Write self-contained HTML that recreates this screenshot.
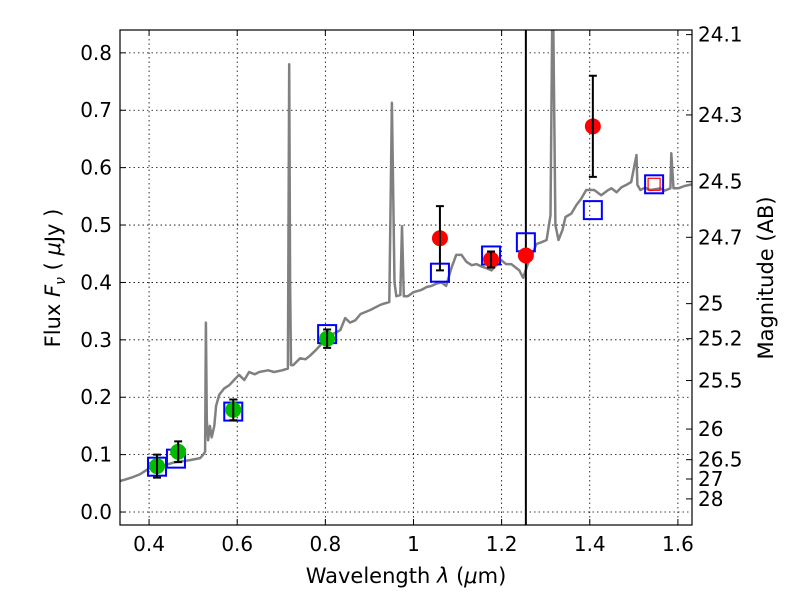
<!DOCTYPE html>
<html><head><meta charset="utf-8"><style>
body{margin:0;background:#fff}
svg{display:block;font-family:"DejaVu Sans","Liberation Sans",sans-serif}
</style></head><body>
<svg id="chart" width="800" height="600"></svg>
<script>
const specWave=[0.334,0.360,0.380,0.402,0.430,0.459,0.490,0.516,0.522,0.527,0.529,0.531,0.534,0.538,0.542,0.548,0.552,0.559,0.570,0.582,0.593,0.604,0.616,0.627,0.640,0.650,0.670,0.684,0.702,0.715,0.718,0.720,0.722,0.727,0.735,0.743,0.755,0.766,0.778,0.789,0.800,0.811,0.822,0.834,0.845,0.856,0.868,0.880,0.902,0.925,0.945,0.951,0.957,0.961,0.970,0.974,0.978,0.987,1.000,1.018,1.030,1.041,1.052,1.063,1.074,1.086,1.097,1.109,1.120,1.132,1.143,1.154,1.165,1.177,1.188,1.199,1.210,1.222,1.240,1.249,1.261,1.270,1.279,1.290,1.302,1.311,1.316,1.322,1.329,1.338,1.345,1.358,1.370,1.380,1.392,1.410,1.426,1.440,1.449,1.461,1.472,1.483,1.494,1.506,1.508,1.515,1.525,1.538,1.560,1.570,1.583,1.585,1.590,1.601,1.615,1.632];
const specFlux=[0.054,0.060,0.066,0.077,0.080,0.087,0.090,0.094,0.099,0.105,0.33,0.16,0.125,0.15,0.13,0.15,0.185,0.204,0.215,0.221,0.230,0.239,0.230,0.244,0.240,0.244,0.247,0.244,0.247,0.25,0.78,0.40,0.256,0.256,0.262,0.268,0.266,0.273,0.282,0.291,0.300,0.308,0.312,0.317,0.338,0.330,0.334,0.345,0.352,0.361,0.366,0.713,0.40,0.376,0.378,0.498,0.376,0.376,0.383,0.387,0.392,0.394,0.398,0.40,0.394,0.425,0.448,0.448,0.436,0.430,0.432,0.428,0.425,0.421,0.430,0.439,0.432,0.432,0.421,0.408,0.436,0.450,0.467,0.470,0.474,0.517,0.95,0.50,0.474,0.491,0.514,0.520,0.535,0.545,0.561,0.561,0.552,0.560,0.564,0.557,0.566,0.570,0.575,0.622,0.570,0.561,0.565,0.561,0.564,0.560,0.564,0.625,0.564,0.564,0.568,0.571];
const greenWave=[0.418,0.466,0.591,0.804];
const greenFlux=[0.080,0.105,0.178,0.302];
const greenErr=[0.020,0.018,0.018,0.016];
const redWave=[1.060,1.176,1.255,1.407];
const redFlux=[0.477,0.440,0.447,0.672];
const redErr=[0.056,0.014,0,0.088];
const modelWave=[0.418,0.461,0.591,0.804,1.060,1.176,1.255,1.407,1.546];
const modelFlux=[0.079,0.093,0.175,0.310,0.417,0.447,0.470,0.526,0.571];
const xTicks=[0.4,0.6,0.8,1,1.2,1.4,1.6];
const xTickLabels=["0.4","0.6","0.8","1","1.2","1.4","1.6"];
const yTicks=[0,0.1,0.2,0.3,0.4,0.5,0.6,0.7,0.8];
const yTickLabels=["0.0","0.1","0.2","0.3","0.4","0.5","0.6","0.7","0.8"];
const magTicks=[24.1,24.3,24.5,24.7,25,25.2,25.5,26,26.5,27,28];
const magLabels=["24.1","24.3","24.5","24.7","25","25.2","25.5","26","26.5","27","28"];
const vLine=1.255;

const L=120,R=692,T=30,B=525;
const xmin=0.334,xmax=1.632,ymin=-0.0226,ymax=0.8398;
const X=v=>L+(v-xmin)/(xmax-xmin)*(R-L);
const Y=v=>B-(v-ymin)/(ymax-ymin)*(B-T);
const svg=document.getElementById('chart');
const NS='http://www.w3.org/2000/svg';
function mk(tag,attrs,txt){const e=document.createElementNS(NS,tag);for(const k in attrs)e.setAttribute(k,attrs[k]);if(txt!==undefined)e.textContent=txt;svg.appendChild(e);return e;}
const defs=document.createElementNS(NS,'defs');defs.innerHTML='<clipPath id="cp"><rect x="120" y="30" width="572" height="495"/></clipPath>';svg.appendChild(defs);
xTicks.forEach((t,i)=>{const x=X(t);
 let g=mk('line',{x1:x,x2:x,y1:T,y2:B,stroke:'#000','stroke-width':0.8,'stroke-dasharray':'1.5,3'});
 
 mk('line',{x1:x,x2:x,y1:B,y2:B-6,stroke:'#000'});mk('line',{x1:x,x2:x,y1:T,y2:T+6,stroke:'#000'});
 let l=mk('text',{x:x,y:B+26,'font-size':20,'text-anchor':'middle'},xTickLabels[i]);
 });
yTicks.forEach((t,i)=>{const y=Y(t);
 let g=mk('line',{x1:L,x2:R,y1:y,y2:y,stroke:'#000','stroke-width':0.8,'stroke-dasharray':'1.5,3'});
 
 mk('line',{x1:L,x2:L+6,y1:y,y2:y,stroke:'#000'});
 let l=mk('text',{x:L-8,y:y+7,'font-size':20,'text-anchor':'end'},yTickLabels[i]);
 });
magTicks.forEach((m,i)=>{const y=Y(Math.pow(10,(23.9-m)/2.5));
 mk('line',{x1:R-6,x2:R,y1:y,y2:y,stroke:'#000'});
 let l=mk('text',{x:R+6,y:y+7,'font-size':20},magLabels[i]);
 });
let d=specWave.map((w,i)=>(i?'L':'M')+X(w).toFixed(1)+','+Y(specFlux[i]).toFixed(1)).join('');
let sp=mk('path',{d:d,fill:'none',stroke:'#808080','stroke-width':2.5,'clip-path':'url(#cp)','stroke-linejoin':'round'});

let vl=mk('line',{x1:X(vLine),x2:X(vLine),y1:T,y2:B,stroke:'#000','stroke-width':2});

modelWave.forEach((w,i)=>{let s=mk('rect',{x:X(w)-9,y:Y(modelFlux[i])-9,width:18,height:18,fill:'none',stroke:'#0000ff','stroke-width':2});
 });
let rs=mk('rect',{x:X(1.546)-6,y:Y(0.571)-6,width:12,height:12,fill:'none',stroke:'#ff0000','stroke-width':1.2});

function pts(ws,fs,es,col,name){ws.forEach((w,i)=>{const x=X(w);
 let c=mk('circle',{cx:x,cy:Y(fs[i]),r:8,fill:col});
 
 if(es[i]>0){const y1=Y(fs[i]+es[i]),y2=Y(fs[i]-es[i]);
  let e=mk('path',{d:`M${x},${y1}L${x},${y2}M${x-4},${y1}L${x+4},${y1}M${x-4},${y2}L${x+4},${y2}`,stroke:'#000','stroke-width':2,fill:'none'});
  }});}
pts(greenWave,greenFlux,greenErr,'#00bb00','green-data-point');
pts(redWave,redFlux,redErr,'#ff0000','red-data-point');
let fr=mk('rect',{x:L,y:T,width:R-L,height:B-T,fill:'none',stroke:'#000','stroke-width':1.2});

let xl=mk('text',{x:406,y:583,'font-size':21,'text-anchor':'middle'});
xl.innerHTML='Wavelength  <tspan font-style="italic">λ</tspan> (<tspan font-style="italic">μ</tspan>m)';

let yl=mk('text',{x:0,y:0,'font-size':21,'text-anchor':'middle',transform:'translate(60,278) rotate(-90)'});
yl.innerHTML='Flux  <tspan font-style="italic">F</tspan><tspan font-style="italic" font-size="14" dy="5">ν</tspan><tspan dy="-5">  ( </tspan><tspan font-style="italic">μ</tspan>Jy )';

let rl=mk('text',{x:0,y:0,'font-size':21,'text-anchor':'middle',transform:'translate(773,278) rotate(-90)'},'Magnitude (AB)');

</script>
</body></html>
